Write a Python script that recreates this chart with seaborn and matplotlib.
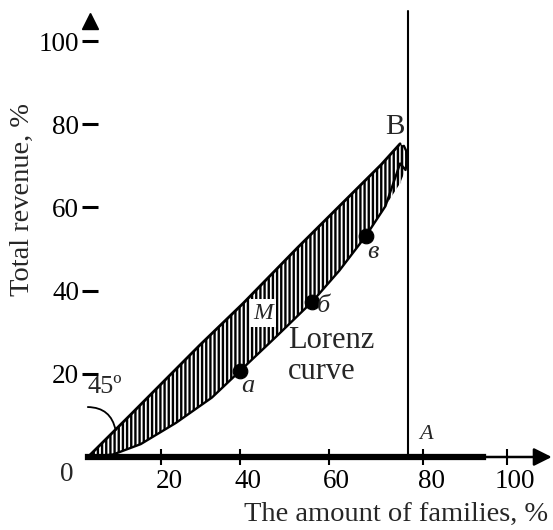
import numpy as np
import matplotlib
matplotlib.use("Agg")
import matplotlib.pyplot as plt
from matplotlib.transforms import ScaledTranslation
import seaborn as sns

# line of equality (upper edge of the lens), % of families vs % of revenue
upper_x = [0, 10, 26.7, 37.0, 50.0, 62.0, 70.0, 74.5]
upper_y = [0, 10, 26.9, 36.9, 50.3, 62.3, 70.3, 75.3]

# Lorenz curve (lower edge of the lens), closing at point B
lorenz_x = [0, 6.0, 12.6, 21.0, 29.6, 36.3, 45.0, 53.5, 60.0, 66.3, 71.0, 74.5, 75.8, 76.2, 76.0, 75.4, 74.5]
lorenz_y = [0, 0.6, 3.1, 8.2, 14.3, 20.7, 29.0, 37.3, 44.8, 53.1, 60.3, 65.8, 69.0, 71.5, 73.5, 74.8, 75.3]

# marked points on the Lorenz curve
point_names = ["a", "б", "в"]
point_x = [36.3, 53.5, 66.3]
point_y = [20.7, 37.3, 53.1]

# axis ticks as drawn in the figure
xtick_pos = [17.4, 36.3, 57.5, 80.0, 100.0]
xtick_labels = ["20", "40", "60", "80", "100"]
ytick_pos = [20, 40, 60, 80, 100]
ytick_labels = ["20", "40", "60", "80", "100"]

line_a = 76.4  # vertical line through A

sns.set_style("white")
plt.rcParams["font.family"] = ["Liberation Serif", "DejaVu Serif"]
plt.rcParams["hatch.linewidth"] = 1.7

fig = plt.figure(figsize=(5.53, 5.30), dpi=100)
ax = fig.add_axes([0, 0, 1, 1])
ax.set_xlim(-21.0, 111.0)
ax.set_ylim(-17.55, 109.86)

# hatched area between equality line and Lorenz curve
poly_x = np.r_[upper_x, lorenz_x[::-1]]
poly_y = np.r_[upper_y, lorenz_y[::-1]]
ax.fill(poly_x, poly_y, facecolor="white", edgecolor="black", hatch="||||", lw=0, zorder=1)

sns.lineplot(x=upper_x, y=upper_y, sort=False, color="black", lw=2.0, ax=ax, zorder=2)
sns.lineplot(x=lorenz_x, y=lorenz_y, sort=False, color="black", lw=1.7, ax=ax, zorder=2)
sns.scatterplot(x=point_x, y=point_y, color="black", s=110, edgecolor="black", ax=ax, zorder=3)

# point labels
offsets = [(1.9, -3.6), (2.6, -1.1), (1.7, -3.7)]
for name, px, py, (dx, dy) in zip(point_names, point_x, point_y, offsets):
    ax.text(px + dx, py + dy, name, fontsize=19, style="italic", ha="center", va="center", zorder=4)

ax.text(41.8, 34.6, "M", fontsize=17, style="italic", ha="center", va="center", zorder=4,
        bbox=dict(facecolor="white", edgecolor="none", pad=2.5))
ax.text(47.7, 24.2, "Lorenz\ncurve", fontsize=22, ha="left", va="center", linespacing=1.1)
ax.text(73.3, 79.4, "B", fontsize=21, ha="center", va="center")
ax.text(80.7, 5.3, "A", fontsize=16, style="italic", ha="center", va="center")
ax.text(4.1, 16.8, "45º", fontsize=19, ha="center", va="center")
ax.text(-5.0, -4.1, "0", fontsize=19.5, ha="center", va="center")
ax.annotate("", xy=(6.7, 5.8), xytext=(-0.7, 12.0),
            arrowprops=dict(arrowstyle="-", lw=1.3, color="black",
                            connectionstyle="arc3,rad=-0.45"))

# vertical line through A
ax.axvline(line_a, ymin=0.138, ymax=0.98, color="black", lw=1.5)

# axes
for side in ["top", "right", "left"]:
    ax.spines[side].set_visible(False)
ax.spines["left"].set_position(("data", 0.4))
ax.spines["bottom"].set_position(("data", 0))
ax.spines["bottom"].set_bounds(0, 94.3)
ax.spines["bottom"].set_linewidth(4.5)
ax.spines["bottom"].set_color("black")
ax.annotate("", xy=(110.7, 0), xytext=(93.5, 0),
            arrowprops=dict(arrowstyle="-|>", lw=1.8, color="black", mutation_scale=27,
                            shrinkA=0, shrinkB=0))
ax.plot([0.6], [104.9], marker="^", ms=11, color="black", clip_on=False)

ax.set_xticks(xtick_pos)
ax.set_xticklabels(xtick_labels)
ax.set_yticks(ytick_pos)
ax.set_yticklabels(ytick_labels)
ax.tick_params(axis="x", bottom=True, direction="inout", length=11, width=1.5, pad=3,
               labelsize=19.5, colors="black")
ax.tick_params(axis="y", left=True, direction="inout", length=11, width=2.2, pad=2,
               labelsize=19.5, colors="black")
for lab in ax.get_xticklabels():
    lab.set_transform(lab.get_transform() + ScaledTranslation(0.08, 0, fig.dpi_scale_trans))

fig.text(548 / 553, 1 - 521 / 530, "The amount of families, %", fontsize=20.5,
         ha="right", va="baseline")
fig.text(22 / 553, 1 - 199 / 530, "Total revenue, %", fontsize=20.5, rotation=90,
         ha="center", va="center")

fig.savefig("out.png", dpi=100)
